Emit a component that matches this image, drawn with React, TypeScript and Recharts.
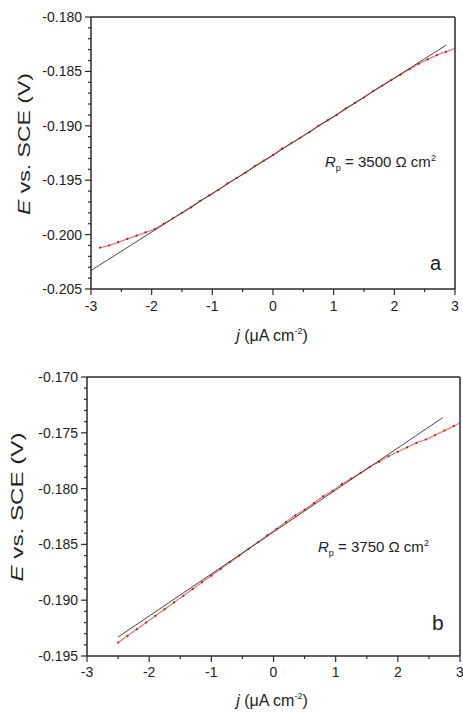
import { LineChart, Line, XAxis, YAxis, ReferenceLine } from 'recharts';

const FONT = '"Liberation Sans", Arial, sans-serif';
const AXIS = '#2a2a2a';

// shared x axis ticks
const xTicks = [-3, -2.5, -2, -1.5, -1, -0.5, 0, 0.5, 1, 1.5, 2, 2.5, 3];
const xLabels = [-3, -2, -1, 0, 1, 2, 3];

// panel a: measured polarisation data
const jA = [-2.85, -2.7, -2.55, -2.4, -2.25, -2.1, -1.95, -1.8, -1.65, -1.5, -1.35, -1.2, -1.05, -0.9, -0.75, -0.6, -0.45, -0.3, -0.15, 0, 0.15, 0.3, 0.45, 0.6, 0.75, 0.9, 1.05, 1.2, 1.35, 1.5, 1.65, 1.8, 1.95, 2.1, 2.25, 2.4, 2.55, 2.7, 2.85, 3.0];
const eA = [-0.2012, -0.201, -0.2007, -0.2004, -0.2001, -0.1998, -0.1995, -0.199, -0.1985, -0.198, -0.1975, -0.1969, -0.1964, -0.1959, -0.1953, -0.1948, -0.1943, -0.1937, -0.1932, -0.1927, -0.1921, -0.1916, -0.1911, -0.1906, -0.19, -0.1895, -0.189, -0.1884, -0.1879, -0.1874, -0.1868, -0.1863, -0.1858, -0.1853, -0.1848, -0.1843, -0.1839, -0.1835, -0.1832, -0.1829];
// panel a: linear fit
const fitJA = [-3, 2.85];
const fitEA = [-0.2033, -0.1826];
const yTicksA = [-0.205, -0.204, -0.203, -0.202, -0.201, -0.2, -0.199, -0.198, -0.197, -0.196, -0.195, -0.194, -0.193, -0.192, -0.191, -0.19, -0.189, -0.188, -0.187, -0.186, -0.185, -0.184, -0.183, -0.182, -0.181, -0.18];
const yLabelsA = [-0.205, -0.2, -0.195, -0.19, -0.185, -0.18];

// panel b
const jB = [-2.5, -2.35, -2.2, -2.05, -1.9, -1.75, -1.6, -1.45, -1.3, -1.15, -1.0, -0.85, -0.7, -0.55, -0.4, -0.25, -0.1, 0.05, 0.2, 0.35, 0.5, 0.65, 0.8, 0.95, 1.1, 1.25, 1.4, 1.55, 1.7, 1.85, 2.0, 2.15, 2.3, 2.45, 2.6, 2.75, 2.9, 3.0];
const eB = [-0.1938, -0.1932, -0.1926, -0.192, -0.1914, -0.1908, -0.1902, -0.1896, -0.189, -0.1884, -0.1878, -0.1872, -0.1866, -0.186, -0.1854, -0.1848, -0.1842, -0.1836, -0.183, -0.1824, -0.1819, -0.1813, -0.1807, -0.1802, -0.1796, -0.1791, -0.1786, -0.17805, -0.1776, -0.1771, -0.1767, -0.1763, -0.1759, -0.1756, -0.1752, -0.1748, -0.1744, -0.1741];
const fitJB = [-2.5, 2.72];
const fitEB = [-0.1933, -0.17365];
const yTicksB = [-0.195, -0.194, -0.193, -0.192, -0.191, -0.19, -0.189, -0.188, -0.187, -0.186, -0.185, -0.184, -0.183, -0.182, -0.181, -0.18, -0.179, -0.178, -0.177, -0.176, -0.175, -0.174, -0.173, -0.172, -0.171, -0.17];
const yLabelsB = [-0.195, -0.19, -0.185, -0.18, -0.175, -0.17];

const near = (list: number[], v: number) => list.some((l) => Math.abs(l - v) < 1e-9);

const makeYTick = (labels: number[]) => (props: any) => {
  const { x, y, payload } = props;
  const major = near(labels, payload.value);
  return (
    <g>
      <line x1={x} x2={x - (major ? 6 : 3)} y1={y} y2={y} stroke={AXIS} strokeWidth={1.2} />
      {major && (
        <text x={x - 9} y={y} dy="0.36em" textAnchor="end" fontSize={14} fontFamily={FONT} fill="#222">
          {payload.value.toFixed(3)}
        </text>
      )}
    </g>
  );
};

const makeXTick = (offset: number) => (props: any) => {
  const { x, y, payload } = props;
  const major = near(xLabels, payload.value);
  return (
    <g>
      <line x1={x} x2={x} y1={y} y2={y + (major ? 6 : 3)} stroke={AXIS} strokeWidth={1.2} />
      {major && (
        <text x={x} y={y + offset} dy="0.36em" textAnchor="middle" fontSize={14} fontFamily={FONT} fill="#222">
          {payload.value}
        </text>
      )}
    </g>
  );
};

interface PanelProps {
  j: number[];
  e: number[];
  fitJ: number[];
  fitE: number[];
  yTicks: number[];
  yLabels: number[];
  height: number;
  margin: { top: number; right: number; bottom: number; left: number };
  yWidth: number;
  labelOffset: number;
}

const Panel = ({ j, e, fitJ, fitE, yTicks, yLabels, height, margin, yWidth, labelOffset }: PanelProps) => {
  const points = j.map((v, i) => ({ j: v, E: e[i] }));
  const fit = fitJ.map((v, i) => ({ j: v, E: fitE[i] }));
  const yMin = yLabels[0];
  const yMax = yLabels[yLabels.length - 1];
  return (
    <LineChart width={463} height={height} margin={margin}>
      <XAxis
        type="number"
        dataKey="j"
        domain={[-3, 3]}
        ticks={xTicks}
        interval={0}
        tickSize={0}
        tickMargin={0}
        height={30}
        allowDataOverflow
        axisLine={{ stroke: AXIS, strokeWidth: 1.5 }}
        tickLine={false}
        tick={makeXTick(labelOffset)}
      />
      <YAxis
        type="number"
        dataKey="E"
        domain={[yMin, yMax]}
        ticks={yTicks}
        interval={0}
        tickSize={0}
        tickMargin={0}
        width={yWidth}
        allowDataOverflow
        axisLine={{ stroke: AXIS, strokeWidth: 1.5 }}
        tickLine={false}
        tick={makeYTick(yLabels)}
      />
      <ReferenceLine y={yMax} stroke={AXIS} strokeWidth={1.5} />
      <ReferenceLine x={3} stroke={AXIS} strokeWidth={1.5} />
      <Line
        data={points}
        dataKey="E"
        type="monotone"
        stroke="#f07a7a"
        strokeWidth={1.3}
        dot={{ r: 1.1, fill: '#a3222a', stroke: 'none' }}
        isAnimationActive={false}
      />
      <Line
        data={fit}
        dataKey="E"
        type="linear"
        stroke="#333"
        strokeWidth={0.9}
        dot={false}
        isAnimationActive={false}
      />
    </LineChart>
  );
};

const RpLabel = ({ x, y, value }: { x: number; y: number; value: string }) => (
  <text x={x} y={y} fontSize={15} fontFamily={FONT} fill="#222">
    <tspan fontStyle="italic">R</tspan>
    <tspan fontSize={9} dy={4}>p</tspan>
    <tspan dy={-4}>{` = ${value} Ω cm`}</tspan>
    <tspan fontSize={9} dy={-6}>2</tspan>
  </text>
);

const XLabel = ({ y }: { y: number }) => (
  <text x={272} y={y} textAnchor="middle" fontSize={16} fontFamily={FONT} fill="#222">
    <tspan fontStyle="italic">j</tspan>
    <tspan> (μA cm</tspan>
    <tspan fontSize={9} dy={-7}>-2</tspan>
    <tspan dy={7}>)</tspan>
  </text>
);

const YLabel = ({ x, y, len }: { x: number; y: number; len: number }) => (
  <text
    transform={`translate(${x},${y}) rotate(-90)`}
    textAnchor="middle"
    dy="0.36em"
    fontSize={17}
    fontFamily={FONT}
    fill="#222"
    textLength={len}
    lengthAdjust="spacingAndGlyphs"
  >
    <tspan fontStyle="italic">E</tspan>
    <tspan> vs. SCE (V)</tspan>
  </text>
);

export default function App() {
  return (
    <div style={{ position: 'absolute', left: 0, top: 0, width: 463, height: 713, background: '#fff', overflow: 'hidden' }}>
      <div style={{ position: 'absolute', left: 0, top: 0 }}>
        <Panel
          j={jA}
          e={eA}
          fitJ={fitJA}
          fitE={fitEA}
          yTicks={yTicksA}
          yLabels={yLabelsA}
          height={356}
          margin={{ top: 17, right: 8, bottom: 37, left: 0 }}
          yWidth={91}
          labelOffset={17}
        />
      </div>
      <div style={{ position: 'absolute', left: 0, top: 360 }}>
        <Panel
          j={jB}
          e={eB}
          fitJ={fitJB}
          fitE={fitEB}
          yTicks={yTicksB}
          yLabels={yLabelsB}
          height={353}
          margin={{ top: 17, right: 3, bottom: 27, left: 0 }}
          yWidth={87}
          labelOffset={16}
        />
      </div>
      <svg width={463} height={713} style={{ position: 'absolute', left: 0, top: 0, pointerEvents: 'none' }}>
        <YLabel x={24} y={144} len={142} />
        <XLabel y={341} />
        <RpLabel x={325} y={167} value="3500" />
        <text x={430} y={270} fontSize={20} fontFamily={FONT} fill="#222">a</text>

        <YLabel x={17} y={507} len={149} />
        <XLabel y={706} />
        <RpLabel x={318} y={552} value="3750" />
        <text x={432} y={630} fontSize={21} fontFamily={FONT} fill="#222">b</text>
      </svg>
    </div>
  );
}
